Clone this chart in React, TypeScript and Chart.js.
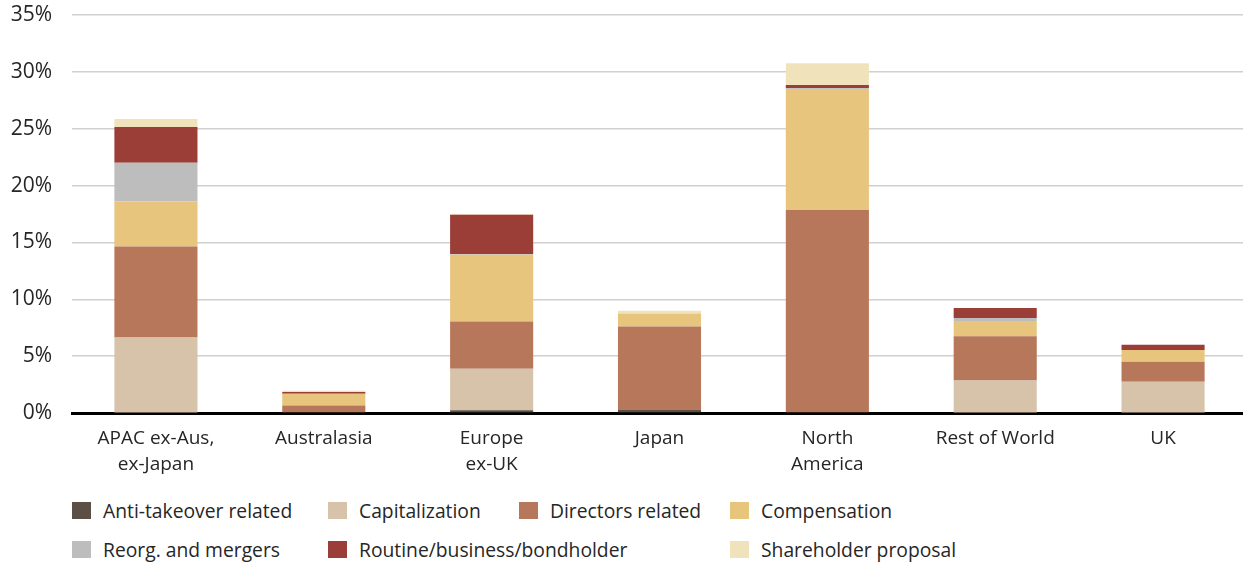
import React, { useEffect, useRef } from "react";
import { Chart, registerables } from "chart.js";

Chart.register(...registerables);

const categories: (string | string[])[] = [
  ["APAC ex-Aus,", "ex-Japan"],
  "Australasia",
  ["Europe", "ex-UK"],
  "Japan",
  ["North", "America"],
  "Rest of World",
  "UK",
];

const antiTakeover = [0.05, 0, 0.25, 0.3, 0, 0.05, 0.05];
const capitalization = [6.6, 0, 3.65, 0, 0, 2.8, 2.7];
const directors = [8.0, 0.65, 4.15, 7.3, 17.85, 3.9, 1.75];
const compensation = [3.95, 1.05, 5.87, 1.15, 10.65, 1.35, 1.05];
const reorg = [3.4, 0, 0.07, 0, 0.05, 0.25, 0];
const routine = [3.15, 0.15, 3.45, 0, 0.3, 0.88, 0.45];
const shareholder = [0.7, 0.1, 0.05, 0.25, 1.9, 0, 0];

const yTicks = [0, 5, 10, 15, 20, 25, 30, 35];

const seriesNames = [
  "Anti-takeover related",
  "Capitalization",
  "Directors related",
  "Compensation",
  "Reorg. and mergers",
  "Routine/business/bondholder",
  "Shareholder proposal",
];
const seriesColors = ["#5c4f45", "#d6c3a9", "#b6775a", "#e8c57c", "#bdbdbd", "#9b3e37", "#f0e3bb"];
const seriesData = [antiTakeover, capitalization, directors, compensation, reorg, routine, shareholder];

const FONT = "'Open Sans', sans-serif";
const TEXT = "#262626";

// legend grid placement (row, column x)
const legendPos = [
  { x: 72, y: 502 },
  { x: 328, y: 502 },
  { x: 519, y: 502 },
  { x: 730, y: 502 },
  { x: 72, y: 541 },
  { x: 328, y: 541 },
  { x: 730, y: 541 },
];

export default function App() {
  const ref = useRef<HTMLCanvasElement>(null);
  useEffect(() => {
    if (!ref.current) return;
    const chart = new Chart(ref.current, {
      type: "bar",
      data: {
        labels: categories,
        datasets: seriesNames.map((n, i) => ({
          label: n,
          data: seriesData[i],
          backgroundColor: seriesColors[i],
          borderWidth: 0,
          barPercentage: 0.495,
          categoryPercentage: 1,
        })),
      },
      options: {
        animation: false,
        responsive: false,
        maintainAspectRatio: false,
        layout: { padding: { top: 15, right: 0, left: 0, bottom: 0 } },
        plugins: { legend: { display: false }, tooltip: { enabled: false } },
        scales: {
          x: {
            stacked: true,
            grid: { display: false, drawTicks: false },
            border: { display: true, color: "#000000", width: 3 },
            ticks: {
              color: TEXT,
              font: { family: FONT, size: 19, lineHeight: 1.37 },
              padding: 13,
              maxRotation: 0,
              autoSkip: false,
            },
            afterFit: (s: any) => {
              s.height = 67;
              s.paddingLeft = 0;
              s.paddingRight = 0;
            },
          },
          y: {
            stacked: true,
            min: 0,
            max: 35,
            afterBuildTicks: (s: any) => {
              s.ticks = yTicks.map((v) => ({ value: v }));
            },
            grid: { color: "#d0d0d0", lineWidth: 1.5, drawTicks: false },
            border: { display: false },
            ticks: {
              color: TEXT,
              font: { family: FONT, size: 21 },
              padding: 20,
              callback: (v: any) => v + "%",
            },
            afterFit: (s: any) => {
              s.width = 72;
              s.paddingTop = 0;
              s.paddingBottom = 0;
            },
          },
        },
      },
    });
    return () => chart.destroy();
  }, []);

  return (
    <div style={{ position: "absolute", left: 0, top: 0, width: 1243, height: 564, overflow: "hidden", background: "#fff" }}>
      <canvas ref={ref} width={1247} height={480} style={{ position: "absolute", left: 0, top: 0, width: 1247, height: 480 }} />
      {seriesNames.map((n, i) => (
        <div
          key={n}
          style={{
            position: "absolute",
            left: legendPos[i].x,
            top: legendPos[i].y - 4,
            height: 25,
            display: "flex",
            alignItems: "center",
            fontFamily: FONT,
            fontSize: 19.3,
            color: TEXT,
            whiteSpace: "nowrap",
          }}
        >
          <span style={{ display: "inline-block", width: 19, height: 17, background: seriesColors[i], marginRight: 12 }} />
          <span>{n}</span>
        </div>
      ))}
    </div>
  );
}
